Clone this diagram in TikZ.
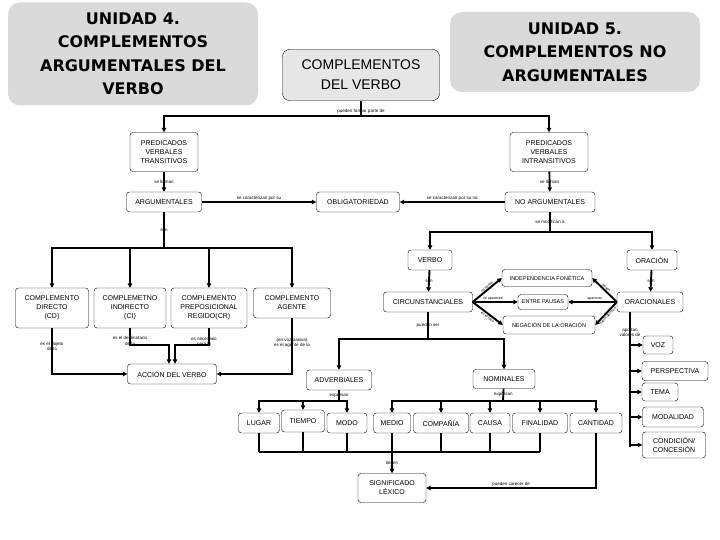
\documentclass[tikz,border=0pt]{standalone}
\usepackage{fontspec}
\setmainfont{Liberation Sans}
\newfontfamily\titlefont{DejaVu Sans}
\usetikzlibrary{arrows.meta}
\definecolor{titlegray}{HTML}{DADADA}
\definecolor{verbgray}{HTML}{E6E6E6}
\tikzset{
    title-box/.style = {fill=titlegray, rectangle, rounded corners=12pt, align=center, font=\titlefont\fontsize{16}{23.5}\selectfont\bfseries},
    verb-box/.style = {draw=black, fill=verbgray, thin, rectangle, rounded corners=7pt, align=center, font=\fontsize{14}{20}\selectfont},
    concept-box/.style = {draw=black, fill=white, thin, rectangle, rounded corners=3pt, align=center, inner sep=1pt, font=\fontsize{7}{9}\selectfont},
    small-box/.style = {concept-box, font=\fontsize{5.5}{7}\selectfont},
    link-label/.style = {inner sep=0.8pt, align=center, font=\fontsize{4.5}{5.5}\selectfont},
    tiny-label/.style = {inner sep=0.5pt, font=\fontsize{3.6}{4}\selectfont},
    plain-line/.style = {line width=1.9pt},
    link/.style = {line width=1.9pt, -{Triangle[length=4.5pt, width=4.5pt]}},
}

\begin{document}
\begin{tikzpicture}[x=1pt, y=-1pt]
\useasboundingbox (0,0) rectangle (720,540);

\node[title-box, minimum width=250pt, minimum height=103pt] (unidad-4) at (133,54) {UNIDAD 4.\\COMPLEMENTOS\\ARGUMENTALES DEL\\VERBO};
\node[verb-box, minimum width=157pt, minimum height=51pt] (comp-verbo) at (361,75) {COMPLEMENTOS\\DEL VERBO};
\node[title-box, minimum width=250pt, minimum height=80pt] (unidad-5) at (575,52) {UNIDAD 5.\\COMPLEMENTOS NO\\ARGUMENTALES};

\node[concept-box, minimum width=68pt, minimum height=39pt] (pred-trans) at (164,152) {PREDICADOS\\VERBALES\\TRANSITIVOS};
\node[concept-box, minimum width=78pt, minimum height=39pt] (pred-intrans) at (549,152) {PREDICADOS\\VERBALES\\INTRANSITIVOS};
\node[concept-box, minimum width=75pt, minimum height=20pt] (argumentales) at (164,202) {ARGUMENTALES};
\node[concept-box, minimum width=83pt, minimum height=20pt] (obligatoriedad) at (358,202) {OBLIGATORIEDAD};
\node[concept-box, minimum width=90pt, minimum height=20pt] (no-argumentales) at (550,202) {NO ARGUMENTALES};

\node[concept-box, minimum width=73pt, minimum height=40pt] (cd) at (52,308) {COMPLEMENTO\\DIRECTO\\(CD)};
\node[concept-box, minimum width=72pt, minimum height=40pt] (ci) at (130,308) {COMPLEMETNO\\INDIRECTO\\(CI)};
\node[concept-box, minimum width=76pt, minimum height=40pt] (cr) at (209,308) {COMPLEMENTO\\PREPOSICIONAL\\REGIDO(CR)};
\node[concept-box, minimum width=77pt, minimum height=30pt] (agente) at (292,303) {COMPLEMENTO\\AGENTE};
\node[concept-box, minimum width=89pt, minimum height=20pt] (accion) at (172,374) {ACCIÓN DEL VERBO};

\node[concept-box, minimum width=44pt, minimum height=20pt] (verbo) at (430,260) {VERBO};
\node[concept-box, minimum width=50pt, minimum height=20pt] (oracion) at (652,260) {ORACIÓN};
\node[concept-box, minimum width=89pt, minimum height=20pt] (circunstanciales) at (428,302) {CIRCUNSTANCIALES};
\node[concept-box, minimum width=66pt, minimum height=20pt] (oracionales) at (650,302) {ORACIONALES};
\node[small-box, minimum width=90pt, minimum height=17pt] (independencia) at (547,278) {INDEPENDENCIA FONÉTICA};
\node[small-box, minimum width=50pt, minimum height=15pt] (entre-pausas) at (543,302) {ENTRE PAUSAS};
\node[small-box, minimum width=92pt, minimum height=18pt] (negacion) at (549,325) {NEGACIÓN DE LA ORACIÓN};

\node[concept-box, minimum width=30pt, minimum height=18pt] (voz) at (658,345) {VOZ};
\node[concept-box, minimum width=66pt, minimum height=19pt] (perspectiva) at (675,371) {PERSPECTIVA};
\node[concept-box, minimum width=36pt, minimum height=18pt] (tema) at (660,392) {TEMA};
\node[concept-box, minimum width=61pt, minimum height=20pt] (modalidad) at (673,417) {MODALIDAD};
\node[concept-box, minimum width=63pt, minimum height=26pt] (condicion) at (674,445) {CONDICIÓN/\\CONCESIÓN};

\node[concept-box, minimum width=65pt, minimum height=20pt] (adverbiales) at (339,380) {ADVERBIALES};
\node[concept-box, minimum width=62pt, minimum height=19pt] (nominales) at (504,379) {NOMINALES};
\node[concept-box, minimum width=41pt, minimum height=20pt] (lugar) at (259,423) {LUGAR};
\node[concept-box, minimum width=43pt, minimum height=22pt] (tiempo) at (303,421) {TIEMPO};
\node[concept-box, minimum width=40pt, minimum height=20pt] (modo) at (347,423) {MODO};
\node[concept-box, minimum width=37pt, minimum height=20pt] (medio) at (392,423) {MEDIO};
\node[concept-box, minimum width=55pt, minimum height=20pt] (compania) at (441,423) {COMPAÑÍA};
\node[concept-box, minimum width=40pt, minimum height=20pt] (causa) at (490,423) {CAUSA};
\node[concept-box, minimum width=55pt, minimum height=20pt] (finalidad) at (540,423) {FINALIDAD};
\node[concept-box, minimum width=52pt, minimum height=20pt] (cantidad) at (596,423) {CANTIDAD};
\node[concept-box, minimum width=68pt, minimum height=29pt] (significado) at (392,488) {SIGNIFICADO\\LÉXICO};

\coordinate (split-pred) at (361,116);
\coordinate (split-arg) at (164,248);
\coordinate (split-noarg) at (550,232);
\coordinate (split-circ) at (428,339);
\coordinate (split-adv) at (339,401);
\coordinate (split-nom) at (503,401);
\coordinate (split-tienen) at (392,452);
\coordinate (valores-end) at (630,447);

\draw[plain-line] (comp-verbo.south) -- node[link-label, pos=0.7]{pueden formar parte de} (split-pred);
\draw[link] (split-pred) -| (pred-trans.north);
\draw[link] (split-pred) -| (pred-intrans.north);
\draw[link] (pred-trans) -- node[link-label]{se llaman} (argumentales);
\draw[link] (pred-intrans) -- node[link-label]{se llaman} (no-argumentales);
\draw[link] (argumentales) -- node[link-label, above]{se caracterizan por su} (obligatoriedad);
\draw[link] (no-argumentales) -- node[link-label, above]{se caracterizan por su no} (obligatoriedad);

\draw[plain-line] (argumentales) -- node[link-label]{son} (split-arg);
\foreach \n in {cd,ci,cr,agente}
    \draw[link] (split-arg) -| (\n.north);
\draw[link] (cd.south) |- node[link-label, pos=0.2]{es el objeto\\de la} (accion.west);
\draw[link] (ci.south) -- ++(0,17) -| ([xshift=-3pt]accion.north);
\node[link-label] at (130,341) {es el destinatario\\de la};
\draw[link] (cr.south) -- ++(0,17) -| ([xshift=3pt]accion.north);
\node[link-label] at (204,342) {es necesario\\para la};
\draw[link] (agente.south) |- node[link-label, pos=0.22]{(en voz pasiva)\\es el agente de la} (accion.east);

\draw[plain-line] (no-argumentales) -- node[link-label]{se modifican a} (split-noarg);
\draw[link] (split-noarg) -| (verbo.north);
\draw[link] (split-noarg) -| (oracion.north);
\draw[link] (verbo) -- node[link-label]{son} (circunstanciales);
\draw[link] (oracion) -- node[link-label]{son} (oracionales);

\draw[link] (circunstanciales.east) -- node[tiny-label, sloped, above, pos=0.55]{no tienen} (independencia.west);
\draw[link] (circunstanciales.east) -- node[tiny-label, above, pos=0.45]{no aparecen} (entre-pausas.west);
\draw[link] (circunstanciales.east) -- node[tiny-label, sloped, below, pos=0.55]{en el foco} (negacion.west);
\draw[link] (oracionales.west) -- node[tiny-label, sloped, above, pos=0.5]{tienen} (independencia.east);
\draw[link] (oracionales.west) -- node[tiny-label, above, pos=0.45]{aparecen} (entre-pausas.east);
\draw[link] (oracionales.west) -- node[tiny-label, sloped, below, pos=0.5]{fuera del foco} (negacion.east);

\draw[plain-line] ([xshift=-20pt]oracionales.south) -- node[link-label, pos=0.15]{aportan\\valores de} (valores-end);
\foreach \n in {voz,perspectiva,tema,modalidad,condicion}
    \draw[link] (valores-end |- \n.west) -- (\n.west);

\draw[plain-line] (circunstanciales) -- node[link-label]{pueden ser} (split-circ);
\draw[link] (split-circ) -| (adverbiales.north);
\draw[link] (split-circ) -| (nominales.north);
\draw[plain-line] (adverbiales) -- node[link-label]{expresan} (split-adv);
\foreach \n in {lugar,tiempo,modo}
    \draw[link] (split-adv) -| (\n.north);
\draw[plain-line] (nominales) -- node[link-label]{expresan} (split-nom);
\foreach \n in {medio,compania,causa,finalidad,cantidad}
    \draw[link] (split-nom) -| (\n.north);

\foreach \n in {lugar,tiempo,modo,medio,compania,causa,finalidad}
    \draw[plain-line] (\n.south) -- (\n.south |- split-tienen);
\draw[plain-line] (lugar.south |- split-tienen) -- (finalidad.south |- split-tienen);
\draw[link] (split-tienen) -- node[link-label]{tienen} (significado.north);
\draw[link] (cantidad.south) |- node[link-label, above, pos=0.75]{pueden carecer de} (significado.east);
\end{tikzpicture}
\end{document}
